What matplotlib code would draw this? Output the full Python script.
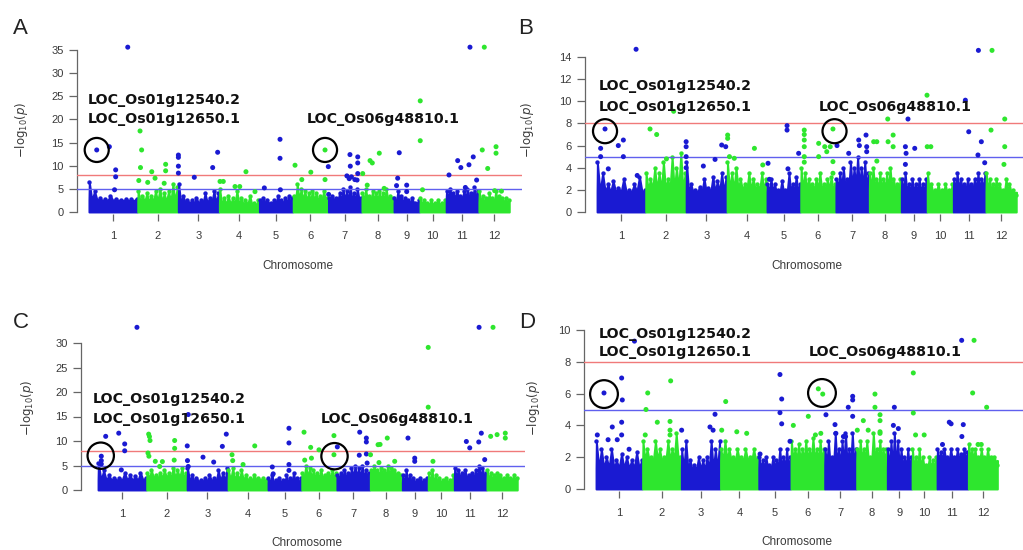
import numpy as np
import matplotlib
matplotlib.use("Agg")
import matplotlib.pyplot as plt

# rice genome, chromosome lengths in Mb
chrom_len = [43.27, 35.94, 36.41, 35.50, 29.96, 31.25, 29.70, 28.44, 23.01, 23.21, 29.02, 27.53]
chrom_labels = [str(i) for i in range(1, 13)]
gene_labels = ["LOC_Os01g12540.2\nLOC_Os01g12650.1", "LOC_Os06g48810.1"]

# top edge of the dense band of SNPs, sampled along each chromosome (-log10 p)
env_A = [[6.5, 4.5, 3.0, 2.8, 3.5, 2.8, 2.6, 2.8, 2.7, 2.9],
         [4.5, 3.5, 4.0, 3.5, 4.5, 5.0, 4.0, 4.5, 6.0, 5.5],
         [6.0, 3.5, 2.5, 2.5, 3.0, 2.5, 4.0, 3.0, 4.5, 4.0],
         [5.0, 3.0, 3.5, 3.0, 4.5, 3.0, 2.5, 3.5, 2.0, 2.5],
         [2.5, 3.0, 2.5, 2.0, 2.5, 3.5, 2.5, 3.0, 3.5, 3.0],
         [3.5, 6.0, 5.0, 4.5, 4.0, 4.5, 4.0, 3.5, 4.5, 3.0],
         [3.0, 3.5, 3.0, 4.0, 5.0, 4.5, 5.5, 4.0, 5.0, 3.0],
         [4.0, 5.0, 3.5, 4.5, 4.0, 4.5, 4.0, 5.0, 3.5, 3.0],
         [3.0, 4.5, 3.5, 3.0, 2.5, 3.0, 2.0, 2.5],
         [3.0, 2.5, 2.0, 2.5, 2.0, 2.5, 2.0, 2.5],
         [4.5, 5.0, 4.0, 4.5, 3.5, 4.5, 5.0, 4.0, 5.5, 4.5],
         [4.5, 3.5, 3.0, 4.0, 3.0, 4.5, 3.5, 3.0, 3.0, 2.5]]
env_B = [[4.5, 3.5, 2.5, 2.8, 2.2, 3.0, 2.0, 2.5, 3.2, 2.0],
         [3.5, 3.0, 4.0, 3.5, 4.5, 3.0, 5.0, 4.0, 5.3, 3.5],
         [4.5, 2.5, 2.0, 2.3, 3.0, 2.2, 3.2, 2.8, 3.5, 3.2],
         [4.5, 3.5, 4.0, 3.0, 2.5, 3.5, 3.0, 2.5, 3.5, 3.0],
         [2.5, 3.0, 2.5, 2.0, 2.8, 2.0, 3.5, 2.5, 3.2, 2.5],
         [4.0, 3.5, 3.0, 2.5, 3.0, 3.5, 2.5, 3.0, 3.2, 2.5],
         [3.0, 3.5, 4.0, 3.0, 4.5, 4.0, 5.0, 4.0, 4.5, 3.5],
         [3.5, 4.0, 3.0, 3.5, 3.0, 3.5, 4.0, 3.0, 2.5, 3.0],
         [3.0, 3.5, 2.5, 3.0, 2.5, 3.0, 2.5, 3.0],
         [3.5, 2.5, 2.0, 2.5, 2.0, 2.5, 2.0, 2.5],
         [3.0, 3.5, 3.0, 2.5, 3.0, 2.5, 3.0, 3.5, 3.0, 3.5],
         [3.5, 3.0, 2.5, 3.0, 2.5, 2.0, 3.0, 2.5, 2.0, 1.5]]
env_C = [[5.5, 4.0, 3.0, 2.5, 2.5, 3.5, 3.0, 2.8, 3.5, 2.5],
         [3.5, 4.0, 3.0, 3.5, 4.0, 3.5, 4.5, 4.0, 4.5, 3.5],
         [4.5, 3.0, 2.5, 2.0, 2.5, 3.0, 2.5, 4.0, 3.5, 4.5],
         [4.0, 4.5, 3.5, 4.0, 3.0, 2.5, 3.0, 2.5, 2.5, 2.0],
         [2.5, 3.0, 2.0, 2.5, 2.0, 3.0, 2.5, 3.5, 2.5, 2.5],
         [3.5, 5.0, 4.5, 4.0, 3.5, 4.0, 3.0, 3.5, 4.0, 3.5],
         [3.0, 3.5, 4.0, 3.5, 4.5, 5.0, 4.5, 5.0, 4.0, 3.5],
         [4.0, 5.0, 4.0, 4.5, 4.0, 5.0, 4.5, 4.0, 3.5, 3.0],
         [3.0, 4.0, 3.0, 2.5, 2.0, 2.5, 2.0, 2.5],
         [3.5, 4.0, 3.0, 2.5, 2.0, 2.5, 2.0, 3.0],
         [4.5, 4.0, 3.5, 4.0, 3.0, 3.5, 4.0, 5.0, 4.5, 3.5],
         [4.0, 3.5, 3.0, 3.5, 3.0, 2.5, 3.0, 2.5, 3.0, 2.5]]
env_D = [[3.0, 2.5, 2.0, 2.5, 1.8, 2.2, 2.0, 1.8, 2.3, 1.8],
         [3.0, 2.5, 2.0, 3.0, 2.5, 2.0, 3.0, 2.5, 3.5, 2.0],
         [2.5, 3.0, 1.8, 1.5, 2.0, 1.8, 2.0, 3.0, 2.5, 3.0],
         [2.5, 3.0, 2.5, 2.0, 2.5, 2.0, 2.5, 2.0, 2.5, 2.0],
         [2.0, 1.8, 2.0, 1.5, 2.0, 1.8, 2.5, 2.0, 2.5, 2.0],
         [3.0, 2.5, 2.8, 2.5, 3.0, 2.5, 3.2, 2.5, 3.0, 2.5],
         [2.5, 3.0, 2.0, 3.5, 2.5, 3.0, 3.5, 2.5, 3.5, 2.5],
         [2.5, 3.0, 2.5, 3.0, 2.0, 3.5, 2.5, 3.0, 2.5, 2.5],
         [2.5, 3.0, 3.5, 3.0, 2.5, 2.0, 2.5, 2.0],
         [2.5, 2.0, 2.5, 2.0, 1.5, 2.0, 1.8, 2.0],
         [2.5, 2.3, 2.5, 2.0, 2.5, 2.0, 2.5, 2.2, 2.5, 2.3],
         [2.8, 2.5, 2.5, 2.0, 2.5, 2.0, 2.5, 2.0, 2.0, 1.5]]

# solid core height of the band per chromosome
floor_A = [2.5, 2.2, 2.0, 1.6, 2.0, 2.5, 2.5, 2.5, 2.0, 1.6, 3.0, 2.0]
floor_B = [1.8, 2.0, 1.8, 2.0, 1.8, 2.0, 2.2, 2.0, 1.8, 1.8, 2.0, 1.8]
floor_C = [2.0, 2.5, 1.8, 2.0, 1.5, 2.5, 2.5, 3.0, 1.5, 1.5, 2.5, 2.0]
floor_D = [1.3, 1.8, 1.2, 1.8, 1.3, 1.8, 1.5, 1.8, 1.3, 1.3, 1.8, 1.8]

# SNPs above the band: cumulative genome position (Mb) and -log10 p
pos_A = [34.7, 7.2, 18.4, 24, 24, 23,
         45.6, 47, 46, 44.5, 56, 52.4, 58.9, 68.3, 68.3, 67,
         79.6, 79.6, 79.6, 79.6, 93.7, 110, 114.4,
         116.5, 119.4, 129.8, 134, 139.5, 147.5,
         155.8, 169.7, 169.7, 170,
         183, 189, 197, 209.6, 209.6,
         212.5, 212.8, 231.7, 238.6, 238.6, 232, 229, 231, 233, 236, 238.6, 238,
         243, 249.5, 251.5, 257.7, 247, 262,
         275.4, 274, 273, 282, 282,
         294, 294, 296,
         319.5, 327.2, 330, 337.2, 341, 334, 338.1, 344,
         350.8, 349, 353.8, 361.2, 361.2, 360, 366]
val_A = [35.6, 13.4, 14.1, 9.1, 7.6, 4.8,
         17.5, 13.4, 9.6, 6.8, 8.7, 6.4, 7.3, 10.3, 8.9, 6.2,
         12.3, 11.8, 9.9, 8.4, 7.5, 9.6, 12.9,
         6.6, 6.6, 5.5, 5.5, 8.7, 4.4,
         5.2, 15.7, 11.6, 4.8,
         10.1, 7.0, 8.6, 13.4, 7.0,
         9.8, 3.8, 12.4, 11.9, 10.6, 9.9, 7.8, 7.2, 7.6, 7.0, 8.3, 6.9,
         8.3, 11.1, 10.6, 12.7, 5.8, 5.1,
         12.8, 7.3, 5.7, 5.8, 4.4,
         24.0, 15.4, 4.8,
         8.0, 11.1, 9.6, 10.2, 11.9, 5.3, 35.6, 6.9,
         35.6, 13.4, 9.4, 14.1, 12.7, 4.6, 4.5]

pos_B = [35, 7.4, 3.5, 3.5, 10.3, 19.2, 23.7, 23.7, 36,
         47.4, 53.3, 68.4, 62,
         79.5, 79.5, 79.5, 79.5, 94.8, 105.2, 111.1, 114.7,
         116.4, 116.4, 122.3, 118, 140.2, 147.6,
         152.3, 169.2, 169.2, 179.5, 170, 153.5,
         184.5, 184.5, 184.5, 184.5, 184.5, 184.5, 197.3, 197.3, 202.7, 204.5, 207.6, 210, 210, 210,
         213.6, 224, 232.9, 233.5, 239.4, 240, 240,
         246.2, 249, 258.7, 259, 263.5, 263.5, 249,
         276.7, 274.4, 275, 282.7, 274.4,
         293.6, 293.8, 297,
         327.7, 330.7, 338.9, 341.9, 344.9, 339.3,
         351.4, 350.5, 362.7, 362.7, 362]
val_B = [14.7, 7.5, 5.75, 5.0, 3.9, 6.0, 6.5, 5.0, 3.3,
         7.5, 7.0, 9.1, 4.8,
         6.35, 5.9, 5.0, 4.0, 4.15, 4.75, 6.05, 5.9,
         6.95, 6.65, 4.85, 5.0, 5.75, 4.25,
         4.4, 7.8, 7.4, 5.3, 3.9, 2.95,
         7.4, 7.0, 6.5, 5.9, 5.0, 4.5, 6.2, 5.0, 5.9, 5.45, 5.9, 7.5, 4.55, 3.5,
         6.0, 5.3, 6.5, 6.0, 6.95, 5.9, 5.45,
         6.35, 6.35, 8.4, 6.35, 6.95, 5.9, 4.6,
         8.4, 5.9, 5.3, 5.75, 4.3,
         10.55, 5.9, 5.9,
         10.1, 7.25, 5.15, 6.35, 4.45, 14.6,
         14.6, 7.4, 8.4, 5.9, 4.3]

pos_C = [34.9, 3.2, 3.2, 3.2, 7.1, 18.7, 24, 24, 21,
         45.3, 46, 46.5, 44.7, 45.5, 51.2, 55.1, 57.5, 68.4, 68.4, 68,
         80.5, 79.6, 79.8, 80.5, 93.6, 103.1, 110.8, 114.3,
         119.4, 120, 129.2, 139.6,
         155.2, 170, 170, 170, 170, 156,
         183.4, 189.3, 196.7, 210, 210, 184, 190,
         213, 232.9, 238.8, 238.8, 232.5, 238.8, 239.5,
         242.5, 249.2, 251, 257.4, 250, 264,
         275.8, 281.8, 281.8,
         293.8, 293.8, 298,
         327.7, 330.7, 338.7, 341, 344, 339,
         351.4, 349.3, 355, 362.3, 362.3]
val_C = [33.2, 6.9, 6.0, 5.3, 10.95, 11.6, 9.4, 8.0, 4.1,
         11.4, 10.9, 10.1, 7.55, 6.9, 5.85, 4.8, 5.8, 10.1, 8.5, 6.1,
         15.4, 9.0, 6.0, 4.8, 6.7, 5.7, 8.9, 11.4,
         7.2, 6.0, 5.2, 9.0,
         4.7, 12.6, 9.6, 5.2, 4.0, 3.3,
         11.8, 8.7, 8.2, 11.1, 7.2, 6.1, 6.5,
         8.8, 11.8, 10.6, 9.8, 7.1, 7.35, 5.5,
         7.2, 9.25, 9.3, 10.6, 5.6, 5.85,
         10.6, 6.5, 5.85,
         29.1, 16.9, 5.85,
         9.9, 8.6, 9.8, 11.6, 6.2, 33.2,
         33.2, 10.95, 11.3, 11.6, 10.6]

pos_D = [7.7, 24.1, 24.7, 24.1, 15.4, 24.1, 1.5, 11.5, 36, 20, 31,
         48.3, 46.7, 69.6, 57.2, 69, 69, 69, 46,
         79.8, 106.1, 109, 110.8,
         117, 120.7, 131, 140.2,
         152.6, 171.1, 172.7, 171.1, 172.7, 180.4,
         183.5, 197.4, 206.7, 210.8, 204, 209,
         213.8, 222.2, 223, 238.6, 238.6, 234.5, 238.6, 230, 232,
         242.9, 248.5, 259.3, 259.3, 264, 264, 264, 264, 253,
         277.3, 276.4, 281,
         294.9, 294.9, 297, 305,
         328.3, 330, 341.3, 340, 322, 339.8,
         351.3, 350, 363, 355, 358]
val_D = [6.04, 6.98, 5.6, 4.2, 3.9, 3.4, 3.4, 3.1, 9.3, 3.1, 2.5,
         6.04, 5.0, 6.8, 4.2, 4.25, 3.7, 3.4, 3.4,
         3.7, 3.9, 3.7, 4.7,
         3.7, 5.5, 3.6, 3.5,
         2.2, 7.2, 5.66, 4.8, 4.1, 3.0,
         4.0, 4.57, 6.3, 5.97, 3.4, 3.5,
         4.67, 4.05, 3.5, 5.83, 5.6, 5.14, 4.57, 3.3, 3.3,
         3.7, 4.3, 5.97, 5.14, 4.67, 4.3, 3.6, 3.5, 3.7,
         5.14, 4.0, 3.8,
         7.3, 4.78, 3.4, 3.4,
         4.2, 4.1, 4.05, 3.3, 2.8, 9.35,
         9.35, 6.04, 5.14, 2.8, 2.8]

# circled candidate genes (cumulative Mb, -log10 p)
circ_pos = {"A": [7.2, 209.6], "B": [7.4, 211.4], "C": [2.7, 210.5], "D": [7.7, 210.1]}
circ_val = {"A": [13.4, 13.4], "B": [7.3, 7.3], "C": [7.0, 6.9], "D": [5.97, 6.04]}

suggestive = 5
genome_wide = 8

data = {"A": (env_A, floor_A, pos_A, val_A), "B": (env_B, floor_B, pos_B, val_B),
        "C": (env_C, floor_C, pos_C, val_C), "D": (env_D, floor_D, pos_D, val_D)}

# ---- layout (pixel units of the 1023x550 figure) ----
W, H = 1023, 550
BLUE = "#1a1ad2"
GREEN = "#2ee62e"
TXT = "#3a3a3a"

layout = {
    # spine x, x of 0 Mb, px per Mb, right edge, y of 0, px per unit, bottom, top, yticks
    "A": dict(sx=77, x0=88.6, xs=1.128, xr=522, y0=212, ys=4.63, yb=214, yt=40,
              yticks=range(0, 36, 5), letter=(20, 28), ylab=(22, 130), xlab=(298, 266),
              txt1=(88, 100, 119), txt2=(307, 119), circ_s=300),
    "B": dict(sx=585, x0=596.7, xs=1.125, xr=1023, y0=212, ys=11.07, yb=214, yt=40,
              yticks=range(0, 15, 2), letter=(526, 28), ylab=(527, 130), xlab=(807, 266),
              txt1=(599, 86, 107), txt2=(819, 107), circ_s=300),
    "C": dict(sx=81, x0=97.7, xs=1.125, xr=525, y0=490, ys=4.9, yb=492, yt=318,
              yticks=range(0, 31, 5), letter=(21, 322), ylab=(28, 408), xlab=(307, 543),
              txt1=(93, 399, 419), txt2=(321, 419), circ_s=360),
    "D": dict(sx=584, x0=595.7, xs=1.077, xr=1023, y0=489, ys=15.9, yb=491, yt=320,
              yticks=range(0, 11, 2), letter=(527, 322), ylab=(533, 408), xlab=(797, 542),
              txt1=(599, 334, 352), txt2=(809, 352), circ_s=400),
}

chrom_start = np.concatenate([[0], np.cumsum(chrom_len)[:-1]])
chrom_end = np.cumsum(chrom_len)
chrom_mid = chrom_start + np.array(chrom_len) / 2

fig = plt.figure(figsize=(W / 100, H / 100), dpi=100)

for key in ["A", "B", "C", "D"]:
    L = layout[key]
    env, floor, pos, val = data[key]
    ax = fig.add_axes([L["sx"] / W, 1 - L["yb"] / H,
                       (L["xr"] - L["sx"]) / W, (L["yb"] - L["yt"]) / H])
    ax.patch.set_alpha(0)
    ax.set_xlim((L["sx"] - L["x0"]) / L["xs"], (L["xr"] - L["x0"]) / L["xs"])
    ax.set_ylim((L["y0"] - L["yb"]) / L["ys"], (L["y0"] - L["yt"]) / L["ys"])

    # dense band of SNPs per chromosome: spikes at the sampled tops, core in between
    for i in range(12):
        c = BLUE if i % 2 == 0 else GREEN
        xs = np.linspace(chrom_start[i] + 0.6, chrom_end[i] - 0.6, len(env[i]))
        mids = (xs[:-1] + xs[1:]) / 2
        px = np.empty(2 * len(xs) - 1)
        py = np.empty(2 * len(xs) - 1)
        px[0::2], py[0::2] = xs, env[i]
        px[1::2], py[1::2] = mids, floor[i]
        px = np.concatenate([[chrom_start[i] + 0.3], px, [chrom_end[i] - 0.3]])
        py = np.concatenate([[floor[i]], py, [floor[i]]])
        ax.fill_between(px, 0, py, color=c, lw=1.4, edgecolor=c, zorder=2)
        ax.scatter(xs, env[i], s=10, color=c, lw=0, zorder=2)

    ax.axhline(genome_wide, color="#f07a7a", lw=1.0, zorder=3)
    ax.axhline(suggestive, color="#6060ee", lw=1.0, zorder=3)

    pos = np.array(pos)
    chrom_idx = np.searchsorted(chrom_end, pos)
    cols = [BLUE if k % 2 == 0 else GREEN for k in chrom_idx]
    ax.scatter(pos, val, s=13, c=cols, lw=0, zorder=4)

    ax.scatter(circ_pos[key], circ_val[key], s=L["circ_s"], facecolors="none",
               edgecolors="black", linewidths=1.6, zorder=5)

    for sp in ["top", "right", "bottom"]:
        ax.spines[sp].set_visible(False)
    ax.spines["left"].set_color("#666666")
    ax.spines["left"].set_linewidth(0.9)
    ax.spines["left"].set_bounds(0, max(L["yticks"]))
    ax.set_yticks(list(L["yticks"]))
    ax.set_xticks(chrom_mid)
    ax.set_xticklabels(chrom_labels)
    ax.tick_params(axis="y", length=6, width=0.9, color="#666666", pad=3.5,
                   labelsize=8, labelcolor=TXT)
    ax.tick_params(axis="x", length=5, width=0.9, color="#666666", pad=7,
                   labelsize=8, labelcolor=TXT)
    for t in ax.get_xticklabels() + ax.get_yticklabels():
        t.set_family("Liberation Sans")

    # labels and annotations
    fig.text(L["letter"][0] / W, 1 - L["letter"][1] / H, key, fontsize=16,
             family="Liberation Sans", ha="center", va="center", color="#222222")
    fig.text(L["ylab"][0] / W, 1 - L["ylab"][1] / H, r"$-\mathrm{log}_{10}(p)$",
             rotation=90, fontsize=8.5, ha="center", va="center", color=TXT)
    fig.text(L["xlab"][0] / W, 1 - L["xlab"][1] / H, "Chromosome", fontsize=8.5,
             family="Liberation Sans", ha="center", va="center", color=TXT)
    l1, l2 = gene_labels[0].split("\n")
    fig.text(L["txt1"][0] / W, 1 - L["txt1"][1] / H, l1, fontsize=10.2,
             fontweight="bold", ha="left", va="center", color="#111111", zorder=6)
    fig.text(L["txt1"][0] / W, 1 - L["txt1"][2] / H, l2, fontsize=10.2,
             fontweight="bold", ha="left", va="center", color="#111111", zorder=6)
    fig.text(L["txt2"][0] / W, 1 - L["txt2"][1] / H, gene_labels[1], fontsize=10.2,
             fontweight="bold", ha="left", va="center", color="#111111", zorder=6)

fig.savefig("out.png", dpi=100)
